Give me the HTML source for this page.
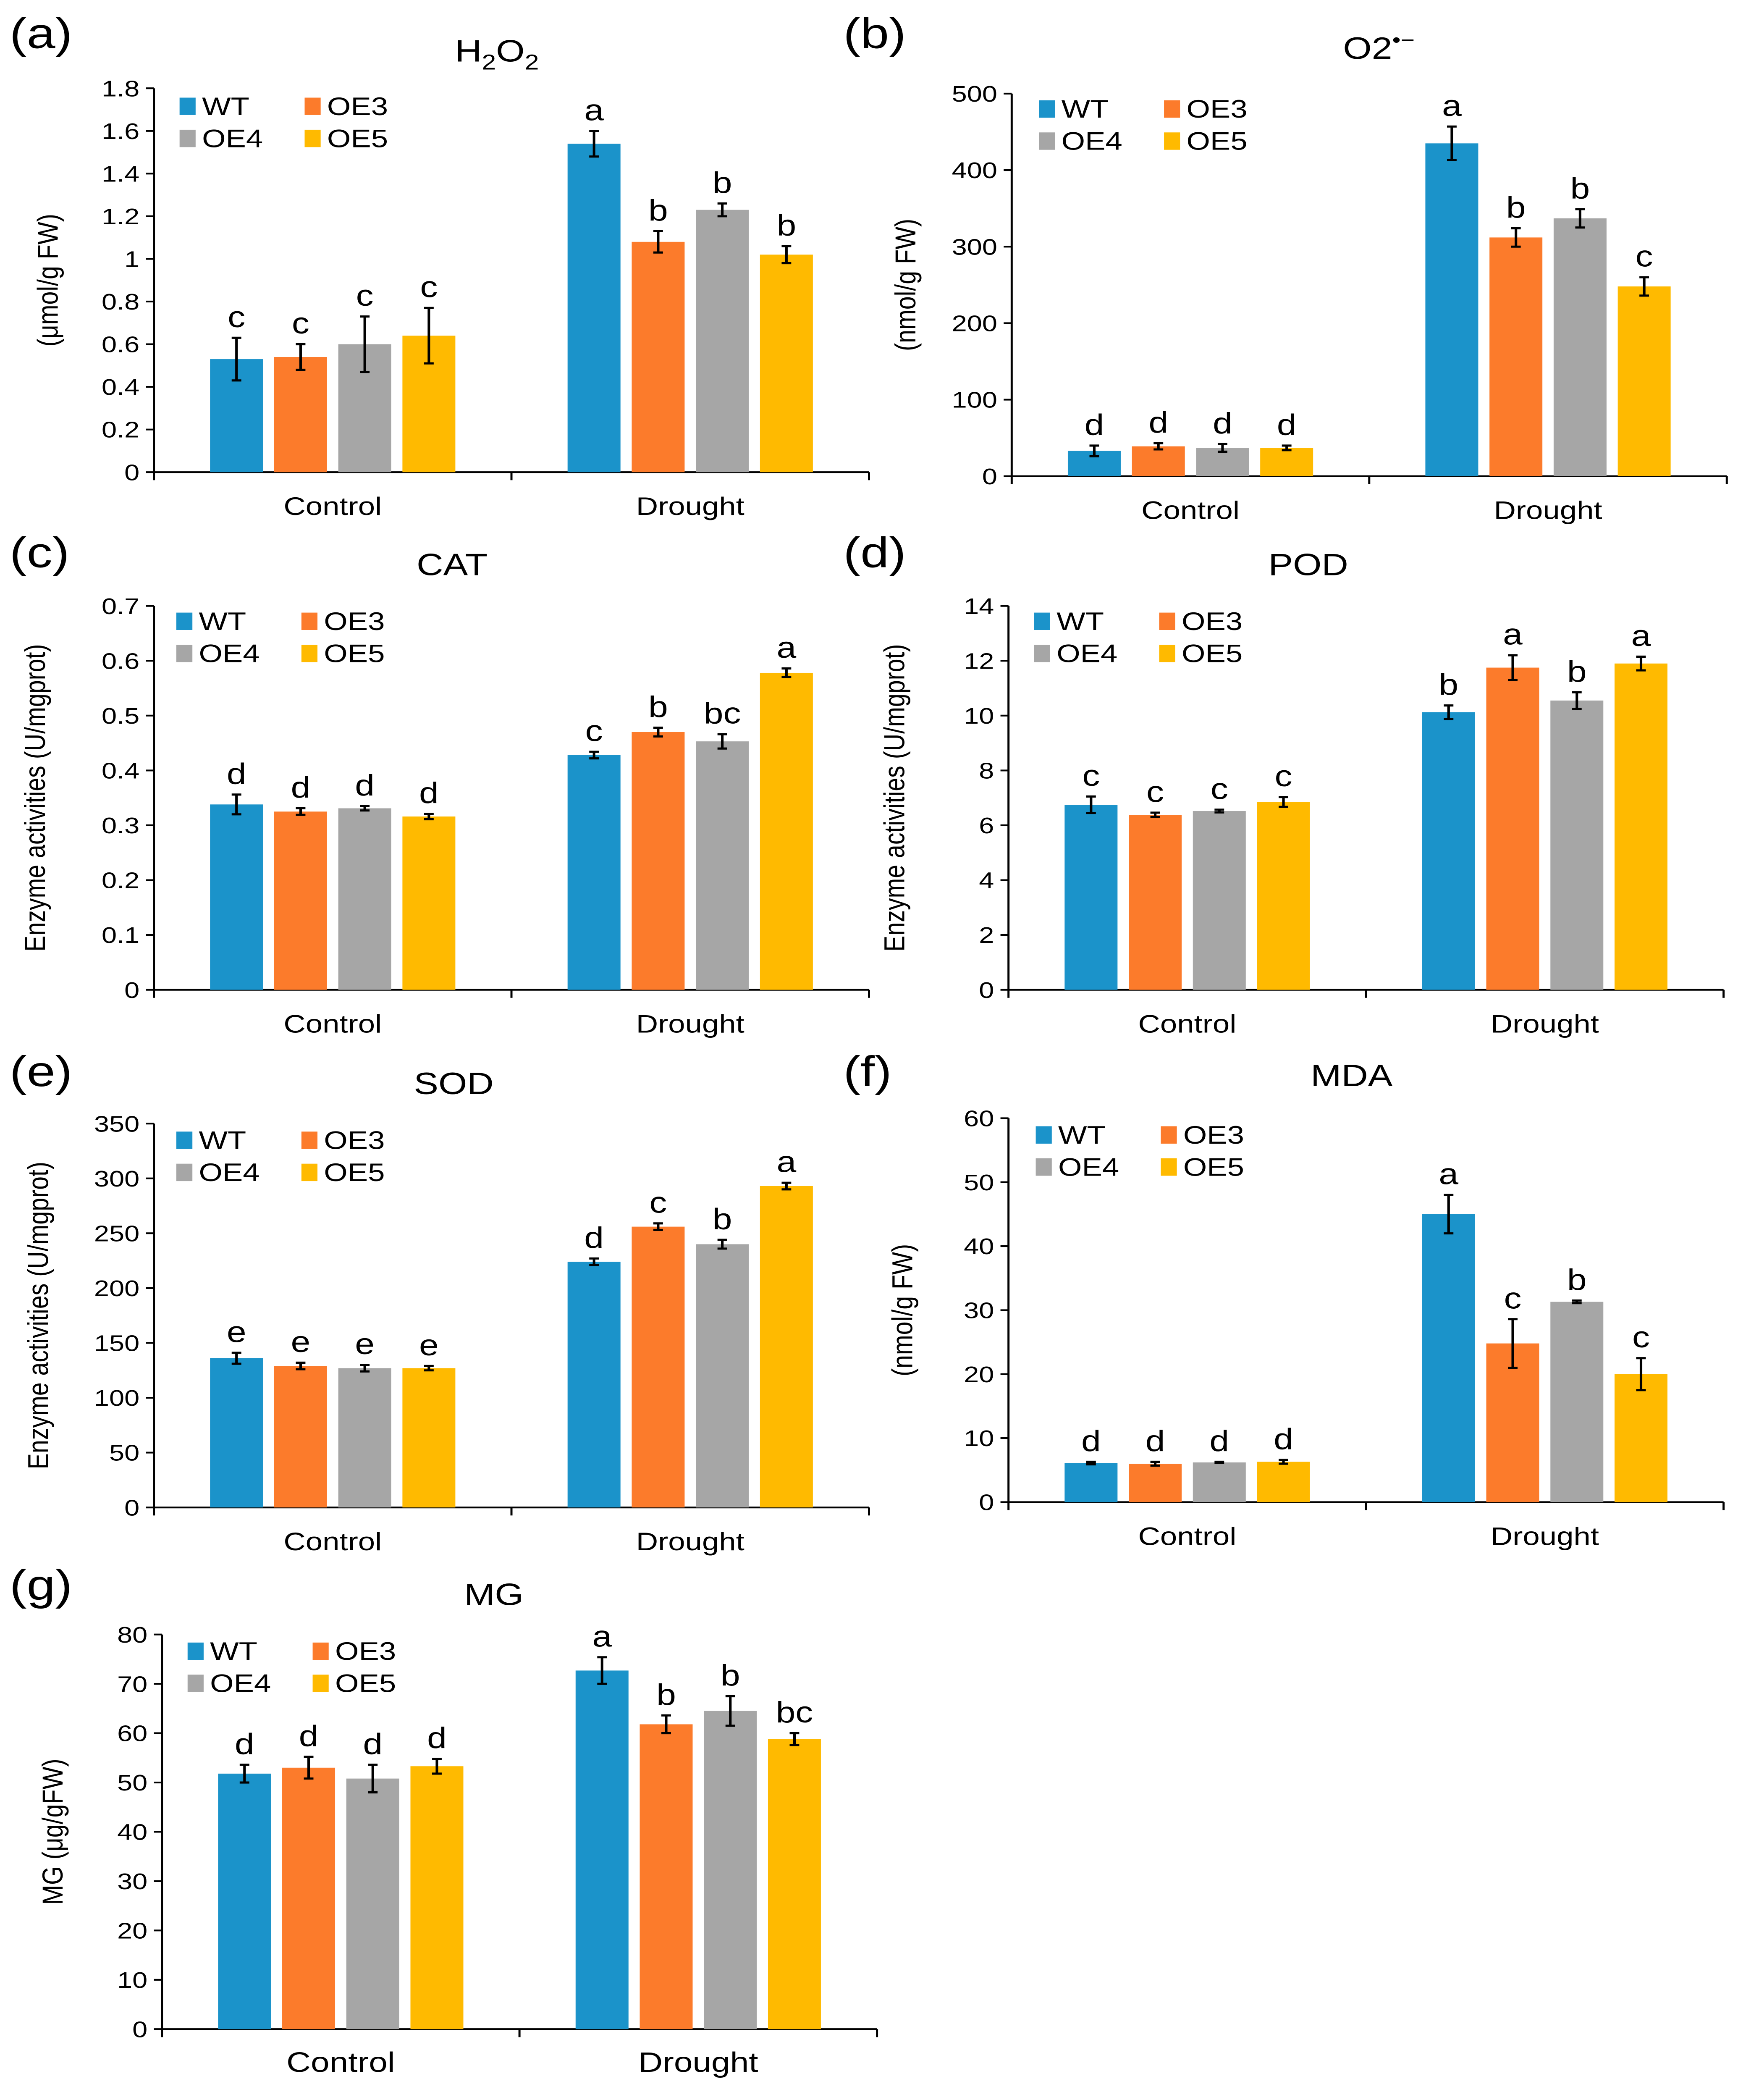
<!DOCTYPE html>
<html><head><meta charset="utf-8">
<meta name="viewport" content="width=4139">
<style>
html,body{margin:0;padding:0;background:#fff;width:100vw;height:100vh;overflow:hidden;}
svg{display:block;position:absolute;left:0;top:0;width:100vw;height:100vh;font-family:"Liberation Sans",Arial,sans-serif;}
</style></head>
<body>
<svg id="fig" xmlns="http://www.w3.org/2000/svg" viewBox="0 0 1084 1570" preserveAspectRatio="none"></svg>
<script>
const categories = ["Control","Drought"];
const seriesNames = ["WT","OE3","OE4","OE5"];
const colors = ["#1B93CA","#FC7B2B","#A6A6A6","#FFBA00"];

const aVals = [[0.53,0.54,0.60,0.64],[1.54,1.08,1.23,1.02]];
const aErr  = [[0.10,0.06,0.13,0.13],[0.06,0.05,0.03,0.04]];
const aLet  = [["c","c","c","c"],["a","b","b","b"]];
const aTicks = ["0","0.2","0.4","0.6","0.8","1","1.2","1.4","1.6","1.8"];

const bVals = [[33,39,37,37],[435,312,337,248]];
const bErr  = [[7,4,5,3],[22,12,12,12]];
const bLet  = [["d","d","d","d"],["a","b","b","c"]];
const bTicks = ["0","100","200","300","400","500"];

const cVals = [[0.338,0.325,0.331,0.316],[0.428,0.470,0.453,0.578]];
const cErr  = [[0.018,0.006,0.004,0.005],[0.006,0.008,0.013,0.008]];
const cLet  = [["d","d","d","d"],["c","b","bc","a"]];
const cTicks = ["0","0.1","0.2","0.3","0.4","0.5","0.6","0.7"];

const dVals = [[6.75,6.38,6.52,6.85],[10.12,11.75,10.55,11.9]];
const dErr  = [[0.3,0.08,0.05,0.18],[0.25,0.45,0.3,0.25]];
const dLet  = [["c","c","c","c"],["b","a","b","a"]];
const dTicks = ["0","2","4","6","8","10","12","14"];

const eVals = [[136,129,127,127],[224,256,240,293]];
const eErr  = [[5,3,3,2],[3,3,4,3]];
const eLet  = [["e","e","e","e"],["d","c","b","a"]];
const eTicks = ["0","50","100","150","200","250","300","350"];

const fVals = [[6.1,6.0,6.2,6.3],[45,24.8,31.3,20]];
const fErr  = [[0.2,0.3,0.1,0.3],[3,3.8,0.2,2.5]];
const fLet  = [["d","d","d","d"],["a","c","b","c"]];
const fTicks = ["0","10","20","30","40","50","60"];

const gVals = [[51.8,53,50.8,53.3],[72.7,61.8,64.5,58.8]];
const gErr  = [[1.8,2.2,2.8,1.5],[2.7,1.8,3,1.2]];
const gLet  = [["d","d","d","d"],["a","b","b","bc"]];
const gTicks = ["0","10","20","30","40","50","60","70","80"];

const NS="http://www.w3.org/2000/svg";
const svg=document.getElementById('fig');
function mk(tag,attrs,parent){const e=document.createElementNS(NS,tag);for(const k in attrs)e.setAttribute(k,attrs[k]);(parent||svg).appendChild(e);return e;}

function panel(o){
  const g=mk('g',{});
  
  
  const max=parseFloat(o.ticks[o.ticks.length-1]);
  const y=v=>o.y0-(v/max)*(o.y0-o.yTop);
  const gx=ci=>o.x0+(o.x1-o.x0)*(ci*2+1)/4;
  const bw=o.bw||33, sp=o.sp||40;
  const pl=mk('text',{x:o.lx,y:o.ly,'font-size':32},g);pl.textContent='('+o.id+')';
  
  
  const t=mk('text',{x:o.tx,y:o.ty,'font-size':23,'text-anchor':'middle'},g);
  t.innerHTML=o.title;
  
  
  const yl=mk('text',{x:0,y:0,'font-size':18,'text-anchor':'middle',transform:`translate(${o.ylx},${(o.y0+o.yTop)/2}) rotate(-90)`},g);
  yl.textContent=o.ylabel;
  
  
  const ya=mk('line',{x1:o.x0,y1:o.yTop,x2:o.x0,y2:o.y0,stroke:'#000','stroke-width':1.3},g);
  
  
  const xa=mk('line',{x1:o.x0,y1:o.y0,x2:o.x1,y2:o.y0,stroke:'#000','stroke-width':1.3},g);
  
  
  o.ticks.forEach(tk=>{
    const v=parseFloat(tk),yy=y(v);
    mk('line',{x1:o.x0-5,y1:yy,x2:o.x0,y2:yy,stroke:'#000','stroke-width':1.3},g);
    const tl=mk('text',{x:o.x0-9,y:yy+6,'font-size':17,'text-anchor':'end'},g);tl.textContent=tk;
    
    
  });
  [0,0.5,1].forEach(f=>{const xx=o.x0+(o.x1-o.x0)*f;mk('line',{x1:xx,y1:o.y0,x2:xx,y2:o.y0+6,stroke:'#000','stroke-width':1.3},g);});
  categories.forEach((c,ci)=>{
    const cl=mk('text',{x:gx(ci),y:o.y0+32,'font-size':o.cfs||19,'text-anchor':'middle'},g);cl.textContent=c;
    
    
    o.vals[ci].forEach((v,si)=>{
      const cx=gx(ci)+(si-1.5)*sp;
      const r=mk('rect',{x:cx-bw/2,y:y(v),width:bw,height:o.y0-y(v),fill:colors[si]},g);
      
      
      const e=o.err[ci][si],top=y(v+e),bot=y(v-e);
      const eb=mk('path',{d:`M${cx},${top}V${bot}M${cx-3},${top}H${cx+3}M${cx-3},${bot}H${cx+3}`,stroke:'#000','stroke-width':1.6,fill:'none'},g);
      
      
      const lt=mk('text',{x:cx,y:top-8,'font-size':22,'text-anchor':'middle'},g);lt.textContent=o.lets[ci][si];
      
      
    });
  });
  seriesNames.forEach((s,i)=>{
    const lx=o.legx+(i%2)*78, ly=o.legy+Math.floor(i/2)*24;
    const sq=mk('rect',{x:lx,y:ly-6,width:10,height:13,fill:colors[i]},g);
    
    
    const lt=mk('text',{x:lx+14,y:ly+7,'font-size':19},g);lt.textContent=s;
    
    
  });
}

panel({id:'a',x0:96,x1:542,y0:353,yTop:66,ticks:aTicks,vals:aVals,err:aErr,lets:aLet,lx:6,ly:36,tx:310,ty:46,title:'H<tspan font-size="16" dy="6">2</tspan><tspan dy="-6">O</tspan><tspan font-size="16" dy="6">2</tspan>',ylx:36,ylabel:'(μmol/g FW)',legx:112,legy:79});
panel({id:'b',x0:631,x1:1077,y0:356,yTop:70,ticks:bTicks,vals:bVals,err:bErr,lets:bLet,lx:526,ly:36,tx:860,ty:44,title:'O2<tspan font-size="15" dy="-9">•−</tspan>',ylx:571,ylabel:'(nmol/g FW)',legx:648,legy:81});
panel({id:'c',x0:96,x1:542,y0:740,yTop:453,ticks:cTicks,vals:cVals,err:cErr,lets:cLet,lx:6,ly:424,tx:282,ty:430,title:'CAT',ylx:28,ylabel:'Enzyme activities (U/mgprot)',legx:110,legy:464});
panel({id:'d',x0:629,x1:1075,y0:740,yTop:453,ticks:dTicks,vals:dVals,err:dErr,lets:dLet,lx:526,ly:424,tx:816,ty:430,title:'POD',ylx:564,ylabel:'Enzyme activities (U/mgprot)',legx:645,legy:464});
panel({id:'e',x0:96,x1:542,y0:1127,yTop:840,ticks:eTicks,vals:eVals,err:eErr,lets:eLet,lx:6,ly:812,tx:283,ty:818,title:'SOD',ylx:30,ylabel:'Enzyme activities (U/mgprot)',legx:110,legy:852});
panel({id:'f',x0:629,x1:1075,y0:1123,yTop:836,ticks:fTicks,vals:fVals,err:fErr,lets:fLet,lx:526,ly:812,tx:843,ty:812,title:'MDA',ylx:569,ylabel:'(nmol/g FW)',legx:646,legy:848});
panel({id:'g',x0:101,x1:547,y0:1517,yTop:1222,ticks:gTicks,vals:gVals,err:gErr,lets:gLet,lx:6,ly:1196,tx:308,ty:1200,title:'MG',ylx:39,ylabel:'MG (μg/gFW)',legx:117,legy:1234,cfs:21});
</script>
</body></html>
